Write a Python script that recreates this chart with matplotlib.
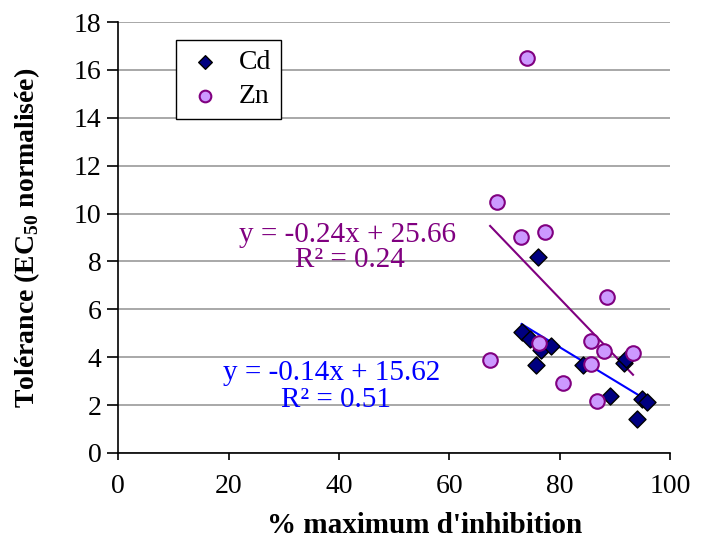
import numpy as np
import matplotlib.pyplot as plt

plt.rcParams['font.family'] = ['Liberation Serif', 'DejaVu Serif']
plt.rcParams['mathtext.fontset'] = 'custom'
plt.rcParams['mathtext.rm'] = 'Liberation Serif'
plt.rcParams['mathtext.bf'] = 'Liberation Serif:bold'

# % maximum d'inhibition / tolérance normalisée
cd_x = [76.1, 73.1, 74.6, 76.7, 78.4, 75.7, 84.2, 91.7, 92.1, 89.1, 94.9, 95.8, 94.1]
cd_y = [8.17, 5.04, 4.75, 4.30, 4.48, 3.69, 3.69, 3.77, 3.91, 2.38, 2.26, 2.12, 1.43]

zn_x = [74.1, 68.7, 73.0, 77.4, 88.6, 67.4, 85.7, 76.3, 88.0, 93.3, 85.7, 80.6, 86.8]
zn_y = [16.5, 10.48, 9.02, 9.23, 6.52, 3.88, 4.68, 4.60, 4.26, 4.18, 3.72, 2.92, 2.17]

cd_fit = (-0.14, 15.62)
zn_fit = (-0.24, 25.66)

fig = plt.figure(figsize=(7.12, 5.38), dpi=100)
ax = fig.add_axes([0.166, 0.158, 0.775, 0.801])

# droites de tendance sur l'étendue des données
xs = np.sort(np.array(zn_x))
ax.plot(xs, zn_fit[0] * xs + zn_fit[1], color='#800080', lw=1.5, zorder=2)
xs = np.sort(np.array(cd_x))
ax.plot(xs, cd_fit[0] * xs + cd_fit[1], color='#0000FF', lw=1.5, zorder=2)

ax.scatter(cd_x, cd_y, marker='D', s=75, facecolor='#000080', edgecolor='black',
           linewidth=1, label='Cd', zorder=3)
ax.scatter(zn_x, zn_y, marker='o', s=110, facecolor='#CC99FF', edgecolor='#800080',
           linewidth=1.5, label='Zn', zorder=4)

ax.set_xlim(0, 100)
ax.set_ylim(0, 18)
ax.set_xticks(range(0, 101, 20))
ax.set_yticks(range(0, 19, 2))
ax.yaxis.grid(True, color='#999999', lw=1.2)
ax.set_axisbelow(True)
for s in ['top', 'right']:
    ax.spines[s].set_visible(False)
ax.spines['left'].set_linewidth(1.2)
ax.spines['bottom'].set_linewidth(1.2)
ax.tick_params(labelsize=20, direction='out', width=1.2)
ax.tick_params(axis='y', length=8, pad=4)
ax.tick_params(axis='x', length=5, pad=10)

ax.set_xlabel("% maximum d'inhibition", fontsize=21, fontweight='bold')
ax.set_ylabel(r'Tolérance (EC$_{\mathbf{50}}$ normalisée)', fontsize=20, fontweight='bold')
ax.xaxis.set_label_coords(0.556, -0.137)
ax.yaxis.set_label_coords(-0.138, 0.5)

ax.text(41.5, 9.1, 'y = -0.24x + 25.66', color='#800080', fontsize=21, ha='center', va='center')
ax.text(42.0, 8.05, 'R² = 0.24', color='#800080', fontsize=21, ha='center', va='center')
ax.text(38.6, 3.35, 'y = -0.14x + 15.62', color='#0000FF', fontsize=21, ha='center', va='center')
ax.text(39.5, 2.2, 'R² = 0.51', color='#0000FF', fontsize=21, ha='center', va='center')

leg = ax.legend(loc='upper left', bbox_to_anchor=(0.105, 0.958), borderaxespad=0,
                fontsize=20, frameon=True, fancybox=False, edgecolor='black',
                framealpha=1, handletextpad=0.5, borderpad=0.35, labelspacing=0.3,
                handlelength=1.4, markerscale=0.8)
leg.get_frame().set_linewidth(1)

fig.savefig('out.png', dpi=100)
